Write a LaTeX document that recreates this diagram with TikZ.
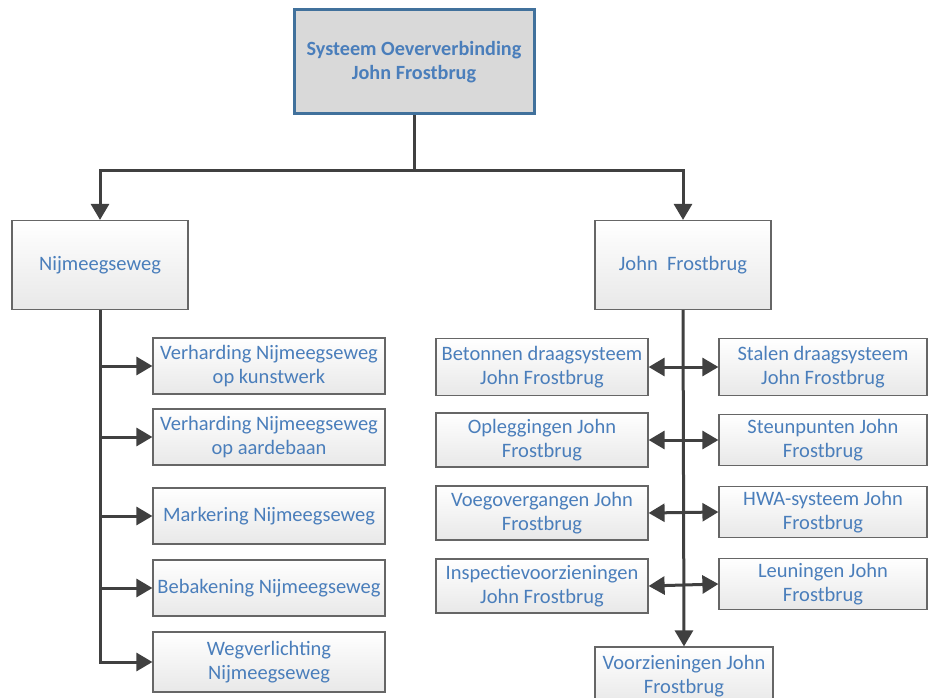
\documentclass[tikz,border=0pt]{standalone}
\usepackage{fontspec}
\setmainfont{Carlito}
\usetikzlibrary{arrows.meta}
\definecolor{tekstblauw}{HTML}{4A7EBB}
\definecolor{randblauw}{HTML}{41719C}
\definecolor{lijngrijs}{HTML}{404040}
\tikzset{
    blok/.style={draw=gray!80!black, line width=1.2pt, top color=white, bottom color=gray!18,
        text=tekstblauw, align=center, inner sep=0pt,
        font=\fontsize{20.5}{24.5}\selectfont},
    hoofdblok/.style={blok, draw=randblauw, line width=3pt, top color=gray!30, bottom color=gray!30,
        minimum width=240pt, minimum height=104pt, font=\fontsize{20.2}{24.5}\selectfont\bfseries},
    middenblok/.style={blok, minimum width=176pt, minimum height=89pt},
    linksblok/.style={blok, minimum width=232pt, minimum height=56pt},
    oblok/.style={blok, minimum width=212pt, minimum height=54pt},
    wblok/.style={blok, minimum width=208pt, minimum height=51pt},
    verbinding/.style={draw=lijngrijs, line width=3pt, -{Triangle[length=16pt,width=18pt]}},
    dubbel/.style={verbinding, {Triangle[length=16pt,width=18pt]}-{Triangle[length=16pt,width=18pt]}}
}

\begin{document}
\begin{tikzpicture}[x=1pt,y=-1pt]
                \useasboundingbox (0,0) rectangle (928,698);
                \node[hoofdblok] (systeem) at (414,62) {Systeem Oeververbinding\\John Frostbrug};
                \node[middenblok] (nijm) at (100,265) {Nijmeegseweg};
                \node[middenblok] (frost) at (683,265) {John~ Frostbrug};

                \node[linksblok] (kunstwerk) at (269,366) {Verharding Nijmeegseweg\\op kunstwerk};
                \node[linksblok] (aardebaan) at (269,437) {Verharding Nijmeegseweg\\op aardebaan};
                \node[linksblok] (markering) at (269,516) {Markering Nijmeegseweg};
                \node[linksblok] (bebakening) at (269,588) {Bebakening Nijmeegseweg};
                \node[linksblok, minimum height=60pt] (verlichting) at (269,662) {Wegverlichting\\Nijmeegseweg};

                \node[oblok, minimum height=57pt] (betonnen) at (542,367) {Betonnen draagsysteem\\John Frostbrug};
                \node[oblok] (opleggingen) at (542,440) {Opleggingen John\\Frostbrug};
                \node[oblok] (voegovergangen) at (542,513) {Voegovergangen John\\Frostbrug};
                \node[oblok] (inspectie) at (542,586) {Inspectievoorzieningen\\John Frostbrug};

                \node[wblok, minimum height=57pt] (stalen) at (823,367) {Stalen draagsysteem\\John Frostbrug};
                \node[wblok] (steunpunten) at (823,440) {Steunpunten John\\Frostbrug};
                \node[wblok] (hwa) at (823,512) {HWA-systeem John\\Frostbrug};
                \node[wblok] (leuningen) at (823,584) {Leuningen John\\Frostbrug};

                \node[blok, minimum width=178pt, minimum height=58pt] (voorzieningen) at (684,676) {Voorzieningen John\\Frostbrug};

                \coordinate (splits) at (414,170);
                \draw[verbinding] (systeem.south) -- (splits) -| (nijm.north);
                \draw[verbinding] (splits) -| (frost.north);

                \foreach \doel in {kunstwerk,aardebaan,markering,bebakening,verlichting}
                    \draw[verbinding] (nijm.south) |- (\doel.west);

                \draw[verbinding] (frost.south) -- (voorzieningen.north);
                \draw[dubbel] (betonnen.east) -- (stalen.west);
                \draw[dubbel] (opleggingen.east) -- (steunpunten.west);
                \draw[dubbel] (voegovergangen.east) -- (hwa.west);
                \draw[dubbel] (inspectie.east) -- (leuningen.west);
            \end{tikzpicture}
\end{document}
